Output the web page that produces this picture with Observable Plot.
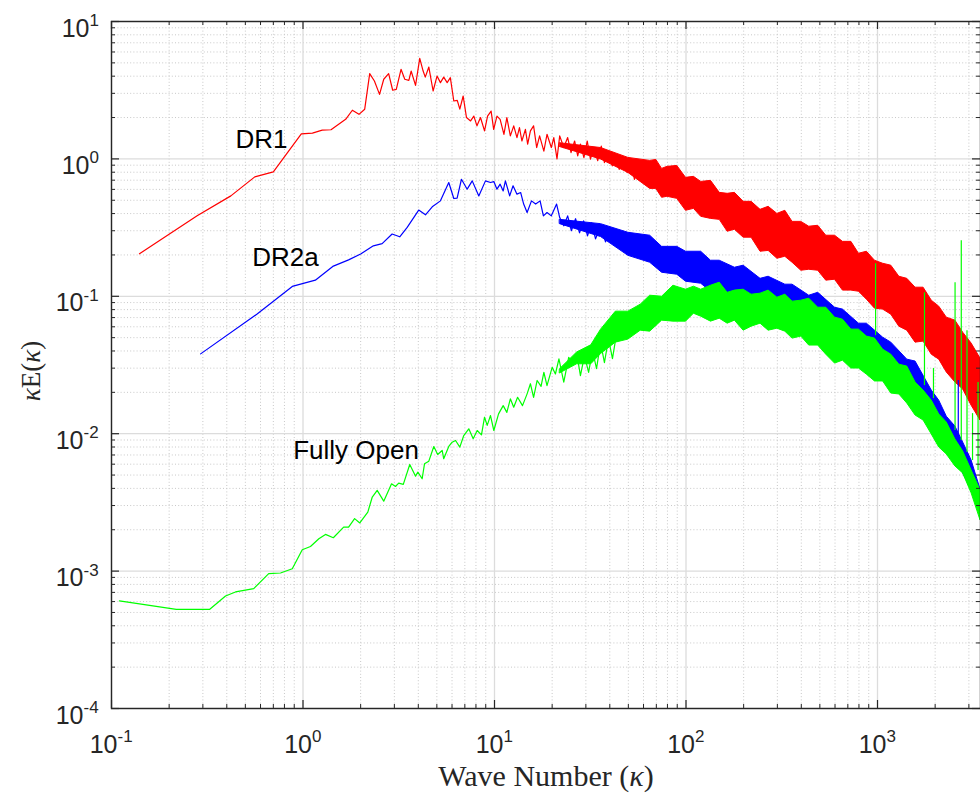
<!DOCTYPE html>
<html>
<head>
<meta charset="utf-8">
<script src="https://cdn.jsdelivr.net/npm/d3@7"></script>
<script src="https://cdn.jsdelivr.net/npm/@observablehq/plot@0.6"></script>
<style>
html, body { margin: 0; padding: 0; background: #ffffff; }
svg { display: block; }
</style>
</head>
<body>
<div id="chart"></div>
<script>
// ---------- axis ticks ----------
const xMajor = [0.1, 1, 10, 100, 1000];
const xTickExp = ["-1", "0", "1", "2", "3"];
const xMinor = [0.2,0.3,0.4,0.5,0.6,0.7,0.8,0.9, 2,3,4,5,6,7,8,9, 20,30,40,50,60,70,80,90, 200,300,400,500,600,700,800,900, 2000,3000];
const yMajor = [1e-4, 1e-3, 1e-2, 1e-1, 1, 10];
const yTickExp = ["-4", "-3", "-2", "-1", "0", "1"];
const yMinor = [2e-4,3e-4,4e-4,5e-4,6e-4,7e-4,8e-4,9e-4, 2e-3,3e-3,4e-3,5e-3,6e-3,7e-3,8e-3,9e-3, 0.02,0.03,0.04,0.05,0.06,0.07,0.08,0.09, 0.2,0.3,0.4,0.5,0.6,0.7,0.8,0.9, 2,3,4,5,6,7,8,9];

const xLabel = "Wave Number (κ)";
const yLabel = "κE(κ)";

// ---------- series labels ----------
const seriesNames = ["DR1", "DR2a", "Fully Open"];
const seriesLabelK = [0.444, 0.543, 0.889];
const seriesLabelE = [1.39, 0.192, 0.00748];

// ---------- DR1 (red) ----------
const dr1K = [0.14,0.28,0.42,0.56,0.70,0.98,1.12,1.26,1.40,1.67,1.81,1.96,2.10,2.23,2.36,2.51,2.64,2.80,2.94,3.07,3.25,3.40,3.57,3.67,3.87,4.07,4.24,4.35,4.54,4.78,5.01,5.22,5.43,5.66,5.88,6.13,6.39,6.59,6.86,7.14,7.50,
  7.8,8.1,8.45,8.87,9.2,9.6,9.9,10.3,10.7,11.2,11.6,12.1,12.6,13.1,13.5,13.9,14.5,14.9,15.4,16.0,16.6,17.2,18.1,18.8,19.8,20.4,21.2,21.9,
  23.0,24.1,25.1,26.2,27.2,28.1,29.3,30.5,31.7,33.0,34.6,36.1,37.5,39.4,41.2,42.8,44.8,47.0,49.3,51.3,53.8,56.0,59.0,61.4];
const dr1E = [0.204,0.385,0.538,0.74,0.805,1.52,1.54,1.62,1.63,1.94,2.26,2.11,2.30,4.17,3.69,2.95,3.80,4.17,3.16,3.21,4.49,3.80,3.73,4.36,3.43,5.39,4.36,3.94,4.66,3.12,4.01,3.59,3.94,3.59,3.90,2.64,2.67,2.30,2.87,2.00,1.89,
  2.05,1.74,2.0,1.60,2.05,2.23,1.64,2.05,1.94,1.51,2.0,1.47,1.74,1.43,1.69,1.35,1.64,1.28,1.60,1.74,1.21,1.47,1.14,1.51,1.21,1.43,1.0,1.47,
  1.21,1.43,1.11,1.35,1.05,1.28,1.02,1.35,0.995,1.21,0.97,1.24,0.94,1.11,0.89,1.08,0.84,1.02,0.795,0.97,0.71,0.94,0.75,0.97];
// envelope of the dense noisy part (upper / lower edge)
const dr1BandK  = [22,36,50,65,70,75,80,90,100,110,120,135,150,165,180,200,220,245,270,300,330,360,400,440,490,540,600,660,730,800,880,970,1070,1180,1300,1430,1580,1740,1920,2100,2300,2550,2800,3100,3450];
const dr1BandHi = [1.30,1.20,1.017,0.967,0.983,0.846,0.875,0.889,0.728,0.740,0.680,0.692,0.566,0.557,0.566,0.487,0.487,0.426,0.448,0.398,0.419,0.348,0.348,0.321,0.326,0.276,0.276,0.249,0.249,0.204,0.211,0.1815,0.1725,0.167,0.1388,0.134,0.1155,0.1155,0.0929,0.0841,0.0699,0.0665,0.0544,0.0453,0.0352];
const dr1BandLo = [1.22,0.99,0.791,0.605,0.605,0.521,0.530,0.512,0.419,0.433,0.379,0.366,0.360,0.295,0.305,0.267,0.267,0.211,0.214,0.1876,0.194,0.1755,0.1535,0.156,0.1535,0.130,0.132,0.110,0.110,0.108,0.0945,0.0813,0.080,0.0735,0.0601,0.0562,0.046,0.0468,0.0376,0.0346,0.0279,0.0236,0.0210,0.0160,0.01247];

// ---------- DR2a (blue) ----------
const dr2aK = [0.292,0.576,0.879,1.16,1.43,1.73,2.0,2.33,2.59,2.92,3.20,3.50,4.02,4.36,4.73,5.22,5.77,6.13,6.38,6.72,7.20,7.65,8.28,8.97,9.53,9.92,10.3,10.7,11.1,11.4,12.0,12.5,13.1,13.7,14.2,14.8,15.6,16.4,17.3,18.0,18.8,19.8,21.1,21.9,
  23.0,24.1,25.2,26.5,27.8,29.2,30.6,32.1,33.7,35.8,38.0,40.4,42.9,45.5,48.3,51.3,54.5,57.8];
const dr2aE = [0.0381,0.0743,0.118,0.131,0.165,0.184,0.203,0.233,0.242,0.284,0.271,0.317,0.424,0.392,0.448,0.495,0.673,0.515,0.518,0.711,0.602,0.692,0.538,0.692,0.673,0.684,0.602,0.655,0.585,0.692,0.538,0.637,0.554,0.569,0.469,0.407,0.495,0.469,0.495,0.385,0.407,0.385,0.469,0.374,
  0.326,0.385,0.300,0.367,0.290,0.354,0.275,0.343,0.262,0.321,0.249,0.300,0.233,0.285,0.222,0.267,0.207,0.254];
const dr2aBandK  = [22,36,50,65,75,90,100,120,135,150,180,200,245,270,330,360,440,490,600,660,800,880,1070,1180,1430,1580,1920,2100,2300,2550,2800,3100,3450];
const dr2aBandHi = [0.36,0.335,0.290,0.276,0.229,0.229,0.211,0.211,0.1815,0.1815,0.1614,0.167,0.134,0.1388,0.1215,0.1215,0.101,0.106,0.0826,0.080,0.0632,0.0632,0.050,0.046,0.0346,0.0335,0.0206,0.0174,0.0133,0.01128,0.00863,0.00638,0.00393];
const dr2aBandLo = [0.335,0.27,0.197,0.1755,0.1484,0.1436,0.1277,0.1235,0.108,0.110,0.0961,0.0977,0.0813,0.0855,0.0826,0.0735,0.0643,0.0643,0.0526,0.0526,0.0402,0.0389,0.034,0.0279,0.0224,0.0183,0.0131,0.0102,0.00877,0.00695,0.00514,0.00387,0.0025];

// ---------- Fully Open (green) ----------
const openK = [0.110,0.218,0.326,0.394,0.444,0.553,0.662,0.763,0.879,0.991,1.094,1.21,1.31,1.44,1.63,1.73,1.86,1.98,2.18,2.30,2.44,2.64,2.90,3.04,3.16,3.34,3.61,3.87,3.98,4.19,4.31,4.54,4.82,5.05,5.33,5.43,5.77,6.01,6.26,6.59,6.91,7.34,7.74,8.12,8.55,8.87,9.16,9.53,9.92,10.5,11.1,11.6,12.1,12.6,13.2,14.0,14.8,15.4,16.0,16.7,17.5,18.1,18.8,20.0,20.8,21.7,23.0,24.4,25.9,27.0,
  28.1,29.5,31.0,32.5,34.1,35.8,37.5,39.4,41.3,43.4];
const openE = [0.000607,0.000527,0.000527,0.000659,0.000705,0.000746,0.000959,0.000969,0.00104,0.00143,0.00151,0.00172,0.00185,0.00175,0.00209,0.00209,0.00241,0.00224,0.00269,0.00346,0.00387,0.00323,0.00432,0.00413,0.00437,0.00428,0.00597,0.00491,0.00525,0.0047,0.00604,0.00631,0.00807,0.00706,0.00755,0.00657,0.00807,0.00867,0.00893,0.00798,0.0097,0.01086,0.00919,0.01055,0.0098,0.01318,0.0115,0.01356,0.01055,0.01395,0.016,0.0143,0.01794,0.0156,0.0184,0.016,0.0195,0.0231,0.0184,0.0244,0.0221,0.028,0.0224,0.0304,0.0272,0.035,0.0237,0.036,0.0322,0.037,
  0.0265,0.037,0.0279,0.0402,0.0298,0.046,0.0329,0.0492,0.0352,0.0535];
const openBandK  = [22,27,32,36,43,50,58,65,75,86,100,110,120,135,150,165,180,200,220,245,270,300,330,360,400,440,490,540,600,660,730,800,880,970,1070,1180,1300,1430,1580,1740,1920,2100,2300,2550,2800,3100,3450];
const openBandHi = [0.0295,0.0390,0.0440,0.0572,0.0773,0.0773,0.0869,0.101,0.0993,0.1194,0.1117,0.1175,0.1117,0.1194,0.1256,0.106,0.110,0.1117,0.1027,0.1045,0.110,0.0977,0.1027,0.0914,0.0929,0.0961,0.0826,0.0826,0.0699,0.0676,0.0572,0.0572,0.0509,0.0492,0.0409,0.0376,0.0318,0.0308,0.0236,0.0206,0.0174,0.0138,0.01206,0.00908,0.00743,0.0054,0.00387];
const openBandLo = [0.0275,0.0320,0.0320,0.0380,0.0460,0.0484,0.0562,0.0553,0.0665,0.0654,0.0654,0.0747,0.0711,0.0654,0.0687,0.0632,0.0665,0.0562,0.0601,0.0632,0.0562,0.0581,0.0553,0.0492,0.0509,0.0438,0.0438,0.0376,0.0324,0.0340,0.0298,0.0298,0.0269,0.0240,0.0240,0.0196,0.0193,0.01658,0.01356,0.01247,0.00987,0.00794,0.00706,0.00578,0.00514,0.00368,0.00234];

// isolated spikes at high wave numbers
const openSpikeK  = [977, 1759, 1960, 2541, 2738, 2933, 3135, 3350];
const openSpikeHi = [0.1726, 0.106, 0.0298, 0.1256, 0.2535, 0.0562, 0.014, 0.0236];
const openSpikeLo = [0.0517, 0.0224, 0.018, 0.01055, 0.00893, 0.0073, 0.00638, 0.0054];
const dr2aSpikeK  = [2641];
const dr2aSpikeHi = [0.0244];
const dr2aSpikeLo = [0.00938];

// ---------- build tables ----------
const pts = (K, E) => K.map((k, i) => ({k, e: E[i]}));
const band = (K, H, L) => K.map((k, i) => ({k, hi: H[i], lo: L[i]}));
const dr1Line = pts(dr1K, dr1E), dr1Band = band(dr1BandK, dr1BandHi, dr1BandLo);
const dr2aLine = pts(dr2aK, dr2aE), dr2aBand = band(dr2aBandK, dr2aBandHi, dr2aBandLo);
const openLine = pts(openK, openE), openBand = band(openBandK, openBandHi, openBandLo);
const openSpikes = band(openSpikeK, openSpikeHi, openSpikeLo);
const dr2aSpikes = band(dr2aSpikeK, dr2aSpikeHi, dr2aSpikeLo);
const labels = seriesNames.map((t, i) => ({t, k: seriesLabelK[i], e: seriesLabelE[i]}));
const xTicks = xMajor.map((v, i) => ({v, exp: xTickExp[i]}));
const yTicks = yMajor.map((v, i) => ({v, exp: yTickExp[i]}));
const isNeg = d => d.exp.startsWith("-");

const RED = "#ff0000", BLUE = "#0000ff", GREEN = "#00ff00", AX = "#262626";
const W = 980, H = 796, mL = 111, mR = 0, mT = 21, mB = 88;
const pW = W - mL - mR, pH = H - mT - mB;
const sans = "'Liberation Sans', Arial, Helvetica, sans-serif";
const serif = "'Liberation Serif', 'Times New Roman', serif";
const TF = 25, EF = 17;

const svg = Plot.plot({
  width: W, height: H,
  marginLeft: mL, marginRight: mR, marginTop: mT, marginBottom: mB,
  style: {background: "#ffffff", fontFamily: sans},
  x: {type: "log", domain: [0.1, 3450], axis: null},
  y: {type: "log", domain: [1e-4, 10], axis: null},
  marks: [
    Plot.gridX(xMinor, {stroke: "#c8c8c8", strokeOpacity: 1, strokeDasharray: "1,2.2", strokeWidth: 1}),
    Plot.gridY(yMinor, {stroke: "#c8c8c8", strokeOpacity: 1, strokeDasharray: "1,2.2", strokeWidth: 1}),
    Plot.gridX(xMajor, {stroke: "#dcdcdc", strokeOpacity: 1, strokeWidth: 1.3}),
    Plot.gridY(yMajor, {stroke: "#dcdcdc", strokeOpacity: 1, strokeWidth: 1.3}),

    Plot.areaY(dr1Band, {x: "k", y1: "lo", y2: "hi", fill: RED, stroke: RED, strokeWidth: 1}),
    Plot.line(dr1Line, {x: "k", y: "e", stroke: RED, strokeWidth: 1.2}),
    Plot.areaY(dr2aBand, {x: "k", y1: "lo", y2: "hi", fill: BLUE, stroke: BLUE, strokeWidth: 1}),
    Plot.line(dr2aLine, {x: "k", y: "e", stroke: BLUE, strokeWidth: 1.2}),
    Plot.areaY(openBand, {x: "k", y1: "lo", y2: "hi", fill: GREEN, stroke: GREEN, strokeWidth: 1}),
    Plot.line(openLine, {x: "k", y: "e", stroke: GREEN, strokeWidth: 1.2}),
    Plot.ruleX(dr2aSpikes, {x: "k", y1: "lo", y2: "hi", stroke: BLUE, strokeWidth: 1.2}),
    Plot.ruleX(openSpikes, {x: "k", y1: "lo", y2: "hi", stroke: GREEN, strokeWidth: 1.2}),

    Plot.text(labels, {x: "k", y: "e", text: "t", textAnchor: "start", fontSize: 26, fontFamily: sans, fill: "#000000"}),

    // inward ticks on all four sides
    Plot.tickX(xMajor, {x: d => d, insetTop: pH - 8, stroke: AX, strokeWidth: 1.2}),
    Plot.tickX(xMajor, {x: d => d, insetBottom: pH - 8, stroke: AX, strokeWidth: 1.2}),
    Plot.tickX(xMinor, {x: d => d, insetTop: pH - 4, stroke: AX, strokeWidth: 1}),
    Plot.tickX(xMinor, {x: d => d, insetBottom: pH - 4, stroke: AX, strokeWidth: 1}),
    Plot.tickY(yMajor, {y: d => d, insetRight: pW - 8, stroke: AX, strokeWidth: 1.2}),
    Plot.tickY(yMajor, {y: d => d, insetLeft: pW - 8, stroke: AX, strokeWidth: 1.2}),
    Plot.tickY(yMinor, {y: d => d, insetRight: pW - 4, stroke: AX, strokeWidth: 1}),
    Plot.tickY(yMinor, {y: d => d, insetLeft: pW - 4, stroke: AX, strokeWidth: 1}),
    Plot.frame({stroke: AX, strokeWidth: 1.4}),

    // x tick labels: "10" + superscript exponent
    Plot.text(xTicks.filter(d => !isNeg(d)), {x: "v", frameAnchor: "bottom", lineAnchor: "middle", text: () => "10", textAnchor: "end", dx: 9, dy: 36, fontSize: TF, fontFamily: sans, fill: AX}),
    Plot.text(xTicks.filter(d => !isNeg(d)), {x: "v", frameAnchor: "bottom", lineAnchor: "middle", text: "exp", textAnchor: "start", dx: 9, dy: 28.5, fontSize: EF, fontFamily: sans, fill: AX}),
    Plot.text(xTicks.filter(isNeg), {x: "v", frameAnchor: "bottom", lineAnchor: "middle", text: () => "10", textAnchor: "end", dx: 6, dy: 36, fontSize: TF, fontFamily: sans, fill: AX}),
    Plot.text(xTicks.filter(isNeg), {x: "v", frameAnchor: "bottom", lineAnchor: "middle", text: "exp", textAnchor: "start", dx: 6, dy: 28.5, fontSize: EF, fontFamily: sans, fill: AX}),
    // y tick labels
    Plot.text(yTicks.filter(d => !isNeg(d)), {y: "v", frameAnchor: "left", lineAnchor: "middle", text: () => "10", textAnchor: "end", dx: -22, dy: 7, fontSize: TF, fontFamily: sans, fill: AX}),
    Plot.text(yTicks.filter(d => !isNeg(d)), {y: "v", frameAnchor: "left", lineAnchor: "middle", text: "exp", textAnchor: "start", dx: -22, dy: -1, fontSize: EF, fontFamily: sans, fill: AX}),
    Plot.text(yTicks.filter(isNeg), {y: "v", frameAnchor: "left", lineAnchor: "middle", text: () => "10", textAnchor: "end", dx: -28, dy: 7, fontSize: TF, fontFamily: sans, fill: AX}),
    Plot.text(yTicks.filter(isNeg), {y: "v", frameAnchor: "left", lineAnchor: "middle", text: "exp", textAnchor: "start", dx: -28, dy: -1, fontSize: EF, fontFamily: sans, fill: AX}),

    Plot.text([xLabel], {frameAnchor: "bottom", lineAnchor: "middle", textAnchor: "middle", dy: 68, text: d => d, fontSize: 30, fontFamily: serif, fill: AX}),
    Plot.text([yLabel], {frameAnchor: "left", lineAnchor: "middle", textAnchor: "middle", dx: -80, dy: 6, rotate: -90, text: d => d, fontSize: 27, fontFamily: serif, fill: AX})
  ]
});

// italic kappa in the axis labels
const NS = "http://www.w3.org/2000/svg";
svg.querySelectorAll("text").forEach(t => {
  const s = t.textContent;
  if (s === xLabel || s === yLabel) {
    t.textContent = "";
    for (const ch of s) {
      const ts = document.createElementNS(NS, "tspan");
      if (ch === "κ") ts.setAttribute("font-style", "italic");
      ts.textContent = ch;
      t.appendChild(ts);
    }
  }
});

document.getElementById("chart").appendChild(svg);
</script>
</body>
</html>
